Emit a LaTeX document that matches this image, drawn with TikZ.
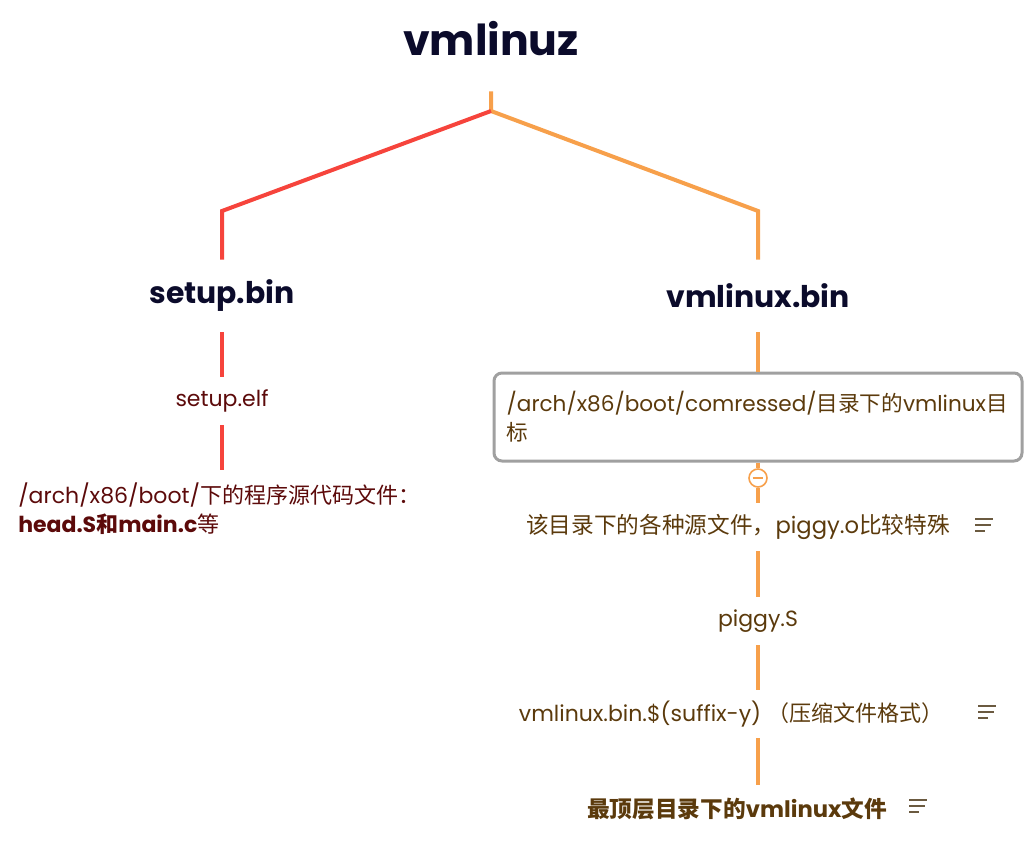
\documentclass[tikz,border=0pt]{standalone}
\usepackage{fontspec}
\setmainfont{Poppins}
\newfontfamily\cjk{Noto Sans CJK SC}
\newcommand\zh[1]{{\cjk #1}}

\definecolor{rootred}{HTML}{F6443C}
\definecolor{rootorange}{HTML}{F7A04B}
\definecolor{titlecol}{HTML}{0B0B2B}
\definecolor{leftcol}{HTML}{5C0A0A}
\definecolor{rightcol}{HTML}{5B3A0C}
\definecolor{notecol}{HTML}{6B5A40}
\definecolor{boxgray}{HTML}{A0A0A0}

\tikzset{
  redline/.style={draw=rootred,line width=3pt},
  orangeline/.style={draw=rootorange,line width=3pt},
  branch/.style={font=\bfseries\fontsize{22.4}{26}\selectfont,text=titlecol,minimum height=54pt,inner sep=0pt},
  leaf/.style={font=\fontsize{16.5}{22}\selectfont,minimum height=36pt,inner sep=0pt},
  notemark/.style={minimum width=13.5pt,minimum height=12pt,inner sep=0pt,
    path picture={\draw[notecol,line width=1.5pt]
      ([yshift=-1.5pt]path picture bounding box.north west) -- ++(18,0)
      ++(-18,6) -- ++(16,0) ++(-16,6) -- ++(10,0);}}
}

\begin{document}
\begin{tikzpicture}[x=0.75pt,y=-0.75pt]
    \useasboundingbox (0,0) rectangle (1034,860);

    \node [font=\bfseries\fontsize{32}{36}\selectfont,text=titlecol,minimum height=78pt,inner sep=0pt] (vmlinuz) at (491,39) {vmlinuz};
    \coordinate (fork) at (491,111);
    \coordinate (lbend) at (222,211);
    \coordinate (rbend) at (758,211);
    \node [branch] (setup) at (222,296) {setup.bin};
    \node [branch] (vmlinux) at (758,296) {vmlinux.bin};

    \draw [orangeline] (vmlinuz) -- (fork) -- (rbend) -- (vmlinux);
    \draw [redline] (fork) -- (lbend) -- (setup);

    % setup.bin side
    \node [leaf,text=leftcol] (elf) at (222,401) {setup.elf};
    \node [leaf,text=leftcol,anchor=north west,align=left,inner xsep=0pt,inner ysep=9.5pt,minimum height=0pt,
           font=\fontsize{16.5}{21.5}\selectfont] (src) at (18,470)
        {/arch/x86/boot/\zh{下的程序源代码文件：}\\\textbf{head.S\zh{和}main.c}\zh{等}};
    \draw [redline] (setup) -- (elf);
    \draw [redline] (elf) -- (elf |- src.north);

    % vmlinux.bin side
    \node [draw=boxgray,line width=2.25pt,rounded corners=6pt,font=\fontsize{16.2}{22}\selectfont,text=rightcol,
           minimum width=396pt,minimum height=66pt,text width=377pt,inner xsep=9.5pt,align=left] (dir) at (758,417)
        {/arch/x86/boot/comressed/\zh{目录下的}vmlinux\zh{目}\\\zh{标}};
    \node [draw=rootorange,circle,line width=1.2pt,minimum size=13.5pt,inner sep=0pt,fill=white] (fold) at (758,478) {};
    \draw [rootorange,line width=1.2pt] ([xshift=-4pt]fold.center) -- ([xshift=4pt]fold.center);
    \node [leaf,text=rightcol,font=\fontsize{17}{22}\selectfont] (files) at (738,527) {\zh{该目录下的各种源文件，}piggy.o\zh{比较特殊}};
    \node [notemark] (note1) at (984,525) {};
    \node [leaf,text=rightcol] (piggy) at (758,621) {piggy.S};
    \node [leaf,text=rightcol] (suffix) at (731,714) {vmlinux.bin.\$(suffix-y) \zh{（压缩文件格式）}};
    \node [notemark] (note2) at (987,712) {};
    \node [leaf,text=rightcol,font=\bfseries\fontsize{17}{22}\selectfont] (top) at (737,809) {\zh{最顶层目录下的}vmlinux\zh{文件}};
    \node [notemark] (note3) at (918,806) {};

    \draw [orangeline] (vmlinux) -- (dir);
    \draw [orangeline] (dir) -- (fold);
    \draw [orangeline] (fold) -- (files.north -| fold);
    \draw [orangeline] (files.south -| piggy) -- (piggy);
    \draw [orangeline] (piggy) -- (suffix.north -| piggy);
    \draw [orangeline] (suffix.south -| piggy) -- (top.north -| piggy);

\end{tikzpicture}
\end{document}
